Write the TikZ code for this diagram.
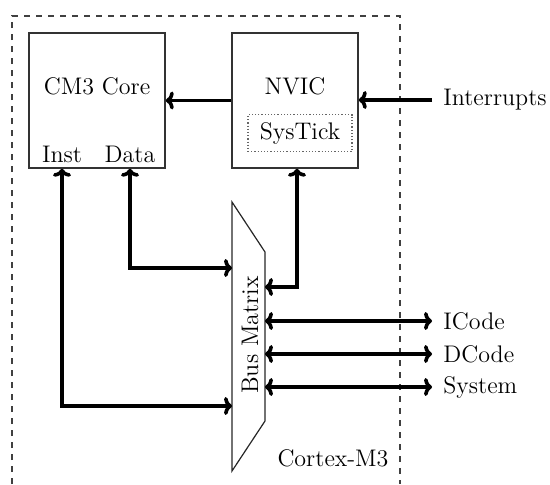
\documentclass[tikz,border=0pt]{standalone}
\usetikzlibrary{arrows.meta}
\begin{document}
\begin{tikzpicture}[x=0.5pt,y=-0.5pt, font=\large,
  box/.style={draw=black!80, line width=0.8pt, minimum width=68pt, minimum height=67.5pt, inner sep=0pt},
  lbl/.style={inner sep=1pt},
  tip/.tip={To[length=4pt,width=9pt]},
  conn/.style={line width=1.8pt},
  frame/.style={dashed, line width=0.6pt, black!75}]
\useasboundingbox (0,0) rectangle (550,484);
% outer dashed frame
\draw[frame] (12,484) -- (12,16) -- (400,16) -- (400,484);
\node[lbl] (cortex) at (333,458) {Cortex-M3};
% CM3 core
\node[box] (core) at (97,100.5) {};
\node[lbl] (coret) at (97,86) {CM3 Core};
\node[lbl] (inst) at (62,154) {Inst};
\node[lbl] (data) at (130,154) {Data};
% NVIC
\node[box, minimum width=63pt] (nvic) at (295,100.5) {};
\node[lbl] (nvict) at (295,86) {NVIC};
\node[draw=black!60, densely dotted, line width=0.6pt, minimum width=52pt, minimum height=18.5pt, inner sep=0pt] (systick) at (300,133) {SysTick};
% Bus matrix trapezoid
\coordinate (tl) at (232,202);
\coordinate (tr) at (265,252);
\coordinate (br) at (265,421);
\coordinate (bl) at (232,471);
\draw[black!85, line width=0.6pt] (tl) -- (tr) -- (br) -- (bl) -- cycle;
\node[lbl, rotate=90] (bus) at (250,335) {Bus Matrix};
% connection points on bus matrix
\coordinate (bdata) at (232,268);
\coordinate (binst) at (232,406);
\coordinate (bnvic) at (265,287);
\coordinate (bi) at (265,321);
\coordinate (bd) at (265,354);
\coordinate (bs) at (265,387);
% external ends
\coordinate (eint) at (432,100);
\coordinate (ei) at (432,321);
\coordinate (ed) at (432,354);
\coordinate (es) at (432,387);
\node[lbl, anchor=west] (interrupts) at (441,100) {Interrupts};
\node[lbl, anchor=west] (icode) at (441,321) {ICode};
\node[lbl, anchor=west] (dcode) at (441,354) {DCode};
\node[lbl, anchor=west] (system) at (441,387) {System};
% connectors
\draw[conn, -tip] (nvic.west) -- (core.east);
\draw[conn, -tip] (eint) -- (nvic.east |- eint);
\draw[conn, tip-tip] (core.south -| data) |- (bdata);
\draw[conn, tip-tip] (core.south -| inst) |- (binst);
\draw[conn, tip-tip] (nvic.south -| 297,0) |- (bnvic);
\draw[conn, tip-tip] (bi) -- (ei);
\draw[conn, tip-tip] (bd) -- (ed);
\draw[conn, tip-tip] (bs) -- (es);
\end{tikzpicture}
\end{document}
